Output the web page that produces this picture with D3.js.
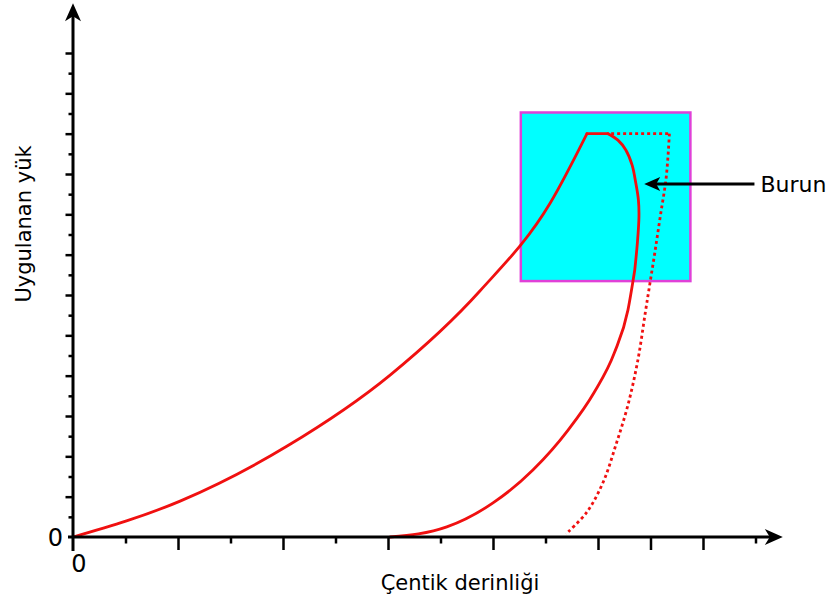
<!DOCTYPE html>
<html>
<head>
<meta charset="utf-8">
<script src="https://cdn.jsdelivr.net/npm/d3@7"></script>
<style>
  body { margin: 0; background: #fff; }
  text { font-family: "DejaVu Sans", Verdana, sans-serif; fill: #000; }
</style>
</head>
<body>
<div id="chart"></div>
<script>
// loading curve (x = indentation depth, y = applied load), tick units
const loadX = [0, 2.04, 4.08, 6.04, 7.75, 9.09, 9.79];
const loadY = [0, 1.78, 4.51, 8.03, 12.20, 16.56, 20];
// hold at peak load
const holdX = [9.79, 10.19];
const holdY = [20, 20];
// unloading, upper part with the "nose"
const noseX = [10.19, 10.38, 10.53, 10.65, 10.72, 10.77, 10.78, 10.75, 10.70];
const noseY = [20, 19.68, 19.19, 18.44, 17.55, 16.71, 15.87, 14.58, 13.24];
// unloading, lower part
const unloadX = [6.04, 7.12, 8.00, 8.76, 9.43, 9.92, 10.31, 10.57, 10.70];
const unloadY = [0, 0.50, 1.69, 3.32, 5.30, 7.14, 9.12, 11.25, 13.24];
// dotted reference curve (no nose)
const dotTopX = [10.25, 11.36];
const dotTopY = [20, 20];
const dotX = [11.36, 11.30, 11.19, 11.09, 10.99, 10.90, 10.76, 10.57, 10.34, 10.10, 9.79, 9.39];
const dotY = [20, 17.85, 15.96, 14.23, 12.59, 11.11, 8.78, 6.54, 4.56, 2.73, 1.24, 0.15];
// highlighted region
const boxX = [8.53, 11.76];
const boxY = [12.69, 21.05];
const arrowX = [12.98, 10.88];
const arrowY = 17.5;
// ticks
const xMajor = [2, 4, 6, 8, 10, 11, 12];
const xMinor = [1, 3, 5, 7, 9, 13];
const yMajor = d3.range(2, 25, 2);
const yMinor = d3.range(1, 24, 2);
const xEnd = 13.52, yEnd = 26.47;
const labels = { x: "Çentik derinliği", y: "Uygulanan yük", nose: "Burun", zero: "0" };

const width = 829, height = 600;
const svg = d3.select("#chart").append("svg").attr("width", width).attr("height", height);

const x = d3.scaleLinear().domain([0, 13]).range([73, 755.5]);
const y = d3.scaleLinear().domain([0, 24]).range([537, 53]);

const red = "#f01010";
const pts = (xs, ys) => xs.map((v, i) => [v, ys[i]]);

// highlight box
svg.append("rect")
  .attr("x", x(boxX[0])).attr("y", y(boxY[1]))
  .attr("width", x(boxX[1]) - x(boxX[0]))
  .attr("height", y(boxY[0]) - y(boxY[1]))
  .attr("fill", "#00ffff").attr("stroke", "#e040d8").attr("stroke-width", 2.5);

// curves
const monoX = d3.line().x(d => x(d[0])).y(d => y(d[1])).curve(d3.curveMonotoneX);
const smooth = d3.line().x(d => x(d[0])).y(d => y(d[1])).curve(d3.curveCatmullRom.alpha(0.5));
const straight = d3.line().x(d => x(d[0])).y(d => y(d[1]));

function redPath(d, dashed) {
  const p = svg.append("path").attr("d", d)
    .attr("fill", "none").attr("stroke", red).attr("stroke-width", 2.8)
    .attr("stroke-linecap", dashed ? "butt" : "round");
  if (dashed) p.attr("stroke-dasharray", "3,3");
}

redPath(straight(pts(dotTopX, dotTopY)), true);
redPath(smooth(pts(dotX, dotY)), true);

redPath(monoX(pts(loadX, loadY)));
redPath(straight(pts(holdX, holdY)));
redPath(smooth(pts(noseX, noseY)) + monoX(pts(unloadX, unloadY)));

// axes ticks
function ticks(axis, vals, size, tr) {
  const g = svg.append("g").attr("transform", tr)
    .call(axis.tickValues(vals).tickSize(size).tickFormat(""));
  g.select(".domain").remove();
  g.selectAll(".tick line").attr("stroke", "#000").attr("stroke-width", 2.5);
}
ticks(d3.axisBottom(x), xMajor, 13, `translate(0,${y(0)})`);
ticks(d3.axisBottom(x), xMinor, 6.5, `translate(0,${y(0)})`);
ticks(d3.axisLeft(y), yMajor, 7.5, `translate(${x(0)},0)`);
ticks(d3.axisLeft(y), yMinor, 4.5, `translate(${x(0)},0)`);

// axis lines with arrow heads
svg.append("line").attr("x1", x(0) - 5).attr("x2", x(xEnd) - 10)
  .attr("y1", y(0)).attr("y2", y(0)).attr("stroke", "#000").attr("stroke-width", 3);
svg.append("line").attr("x1", x(0)).attr("x2", x(0))
  .attr("y1", y(0) + 14).attr("y2", y(yEnd) + 10).attr("stroke", "#000").attr("stroke-width", 3);

const xt = x(xEnd), y0 = y(0);
svg.append("path").attr("d", `M${xt},${y0} L${xt - 18},${y0 - 8} L${xt - 13},${y0} L${xt - 18},${y0 + 8} Z`).attr("fill", "#000");
const yt = y(yEnd), x0 = x(0);
svg.append("path").attr("d", `M${x0},${yt} L${x0 - 8},${yt + 18} L${x0},${yt + 13} L${x0 + 8},${yt + 18} Z`).attr("fill", "#000");

// Burun arrow
const ay = y(arrowY), ax = x(arrowX[1]);
svg.append("line").attr("x1", x(arrowX[0])).attr("x2", ax + 10)
  .attr("y1", ay).attr("y2", ay).attr("stroke", "#000").attr("stroke-width", 3);
svg.append("path").attr("d", `M${ax},${ay} L${ax + 16},${ay - 7} L${ax + 12},${ay} L${ax + 16},${ay + 7} Z`).attr("fill", "#000");
svg.append("text").attr("x", x(arrowX[0]) + 6).attr("y", ay + 8)
  .attr("font-size", 22).text(labels.nose);

// zero labels
svg.append("text").attr("x", x(0) - 10).attr("y", y(0) + 8.5)
  .attr("text-anchor", "end").attr("font-size", 24).text(labels.zero);
svg.append("text").attr("x", x(0) + 6).attr("y", y(0) + 35)
  .attr("text-anchor", "middle").attr("font-size", 24).text(labels.zero);

// axis titles
svg.append("text").attr("x", 460).attr("y", 590)
  .attr("text-anchor", "middle").attr("font-size", 21).text(labels.x);
svg.append("text").attr("transform", "translate(31,224) rotate(-90)")
  .attr("text-anchor", "middle").attr("font-size", 21).text(labels.y);
</script>
</body>
</html>
